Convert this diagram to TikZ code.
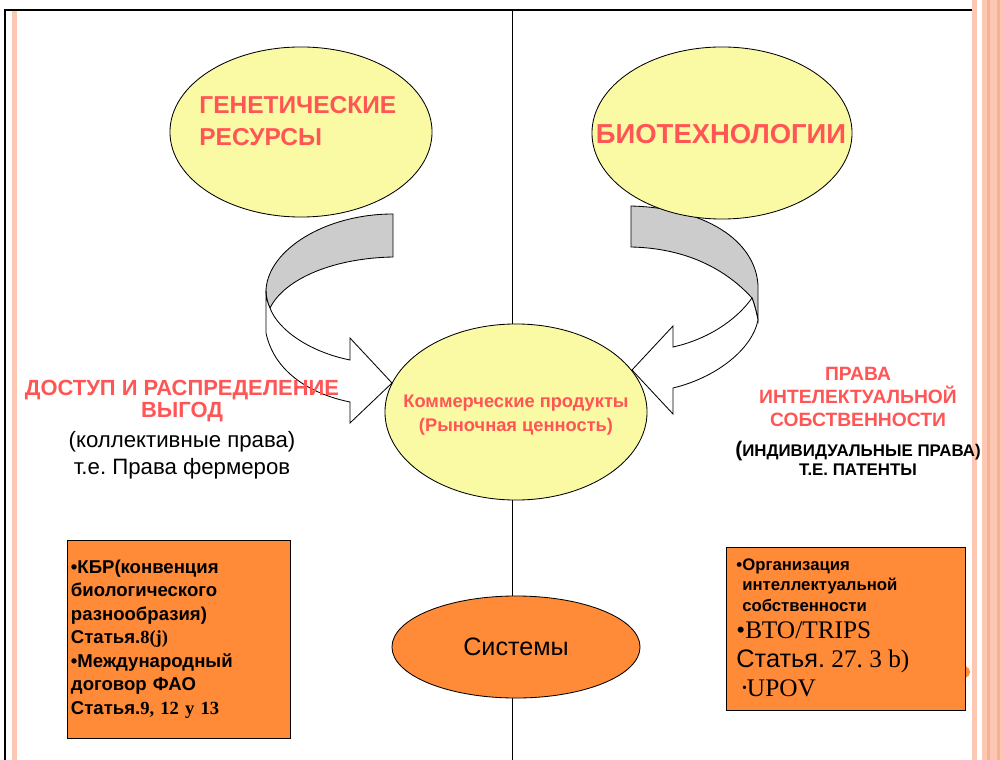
\documentclass[tikz,border=0pt]{standalone}
\usepackage{fontspec}
\setmainfont{Liberation Sans}
\newfontfamily\serifnum{Liberation Serif}
\usepackage{tikz}
\usetikzlibrary{shapes,positioning}
\frenchspacing

\definecolor{bubbleyellow}{HTML}{FAFAA5}
\definecolor{headred}{HTML}{FF5555}
\definecolor{cardorange}{HTML}{FF8A38}
\definecolor{stripepink}{HTML}{FCC8B4}
\definecolor{stripedark}{HTML}{F8B196}

\begin{document}
\begin{tikzpicture}[x=0.025cm,y=-0.025cm,line width=0.6pt,
  bubble/.style={ellipse,draw,fill=bubbleyellow,inner sep=0pt},
  twist/.style={draw,fill=black!20},
  ribbon/.style={draw,fill=white},
  card/.style={rectangle,draw,fill=cardorange,inner sep=0pt},
  redtext/.style={text=headred,align=center,inner sep=0pt}]
 \useasboundingbox (0,0) rectangle (1004,760);

 % frame of the slide
 \fill[stripepink] (12,10) rectangle (17,760);
 \fill[stripepink] (972,0) rectangle (977,760);
 \fill[stripepink] (982,0) rectangle (1004,760);
 \fill[stripedark] (987,0) rectangle (990,760);
 \fill[stripedark] (997,0) rectangle (1000,760);
 \draw[line width=2pt] (4,10) -- (972,10);
 \draw[line width=1.5pt] (5,10) -- (5,760);

 % middle divider
 \coordinate (midtop) at (512,10);
 \coordinate (midbot) at (512,760);
 \draw (midtop) -- (midbot);

 % curved arrows
 \path[twist] (393,214) -- (393,257) .. controls (335,258) and (285,278) .. (270,308)
   .. controls (267,302) and (266,296) .. (266,290) .. controls (268,250) and (325,214) .. (393,214) -- cycle;
 \path[ribbon] (266,290) -- (266,333) .. controls (275,375) and (315,395) .. (350,402)
   -- (350,423) -- (392,383) -- (350,338) -- (350,360) .. controls (310,352) and (278,330) .. (270,308)
   .. controls (267,302) and (266,296) .. (266,290) -- cycle;
 \path[twist] (631,206) .. controls (705,208) and (755,240) .. (758,285) -- (758,320)
   .. controls (756,310) and (754,303) .. (752,298) .. controls (722,265) and (680,248) .. (631,247) -- cycle;
 \path[ribbon] (752,298) .. controls (754,303) and (756,310) .. (758,320) .. controls (752,350) and (715,378) .. (673,388)
   -- (673,414) -- (632,370) -- (673,326) -- (673,347) .. controls (705,340) and (735,322) .. (752,298) -- cycle;

 % ellipses
 \node[bubble,minimum width=6.55cm,minimum height=4.25cm] (gen) at (301,132) {};
 \node[bubble,minimum width=6.5cm,minimum height=4.3cm] (bio) at (722,133) {};
 \node[bubble,minimum width=6.55cm,minimum height=4.4cm] (com) at (516,412) {};
 \node[bubble,fill=cardorange,minimum width=6.2cm,minimum height=2.55cm,
   font=\fontsize{17.9}{20}\selectfont] (sys) at (516,647) {Системы};

 \node[redtext,anchor=west,align=left,font=\fontsize{17.4}{22.8}\selectfont\bfseries] (gentxt) at (199,121) {ГЕНЕТИЧЕСКИЕ\\РЕСУРСЫ};
 \node[redtext,font=\fontsize{19.5}{22}\selectfont\bfseries] (biotxt) at (721,134) {БИОТЕХНОЛОГИИ};
 \node[redtext,font=\fontsize{13}{17}\selectfont\bfseries] (comtxt) at (516,415) {Коммерческие продукты\\(Рыночная ценность)};

 % side labels
 \node[redtext,font=\fontsize{15.6}{15.6}\selectfont\bfseries] (acc) at (182,401) {ДОСТУП И РАСПРЕДЕЛЕНИЕ\\ВЫГОД};
 \node[below=6.5pt of acc,inner sep=0pt,align=center,font=\fontsize{15.8}{19.2}\selectfont] (accnote) {(коллективные права)\\т.е. Права фермеров};
 \node[redtext,font=\fontsize{13.7}{16.4}\selectfont\bfseries] (ipr) at (858,397) {ПРАВА\\ИНТЕЛЕКТУАЛЬНОЙ\\СОБСТВЕННОСТИ};
 \node[below=10pt of ipr,inner sep=0pt,align=center,font=\fontsize{12}{13}\selectfont\bfseries] (iprnote) {{\fontsize{15}{15}\selectfont(}ИНДИВИДУАЛЬНЫЕ ПРАВА)\\Т.Е. ПАТЕНТЫ};

 % boxes
 \node[card,minimum width=5.575cm,minimum height=4.95cm,text width=5.375cm,align=left,
   font=\fontsize{13.2}{16.7}\selectfont\bfseries] (cbd) at (178.5,639)
   {\textbullet КБР(конвенция\\биологического\\разнообразия)\\Статья.{\serifnum 8(j)}\\\textbullet Международный\\договор ФАО\\Статья.{\serifnum 9, 12 y 13}};
 \node[ellipse,fill=cardorange,minimum width=2.5cm,minimum height=0.75cm] (extra) at (920,672) {};
 \node[card,minimum width=5.975cm,minimum height=4.075cm] (wto) at (845.5,628.5) {};
 \node[anchor=north west,inner sep=0pt,align=left,font=\fontsize{11.9}{14.6}\selectfont\bfseries] (wipo) at (736,558)
   {\textbullet Организация\\\phantom{\textbullet}интеллектуальной\\\phantom{\textbullet}собственности};
 \node[anchor=north west,inner sep=0pt,align=left,font=\fontsize{18}{20.6}\selectfont] (trips) at (736,621)
   {{\serifnum\textbullet ВТО/TRIPS}\\Статья.{\serifnum\ 27. 3 b)}\\\hspace*{4pt}{\serifnum\raisebox{2.5pt}{\fontsize{10}{10}\selectfont\textbullet}UPOV}};
\end{tikzpicture}
\end{document}
